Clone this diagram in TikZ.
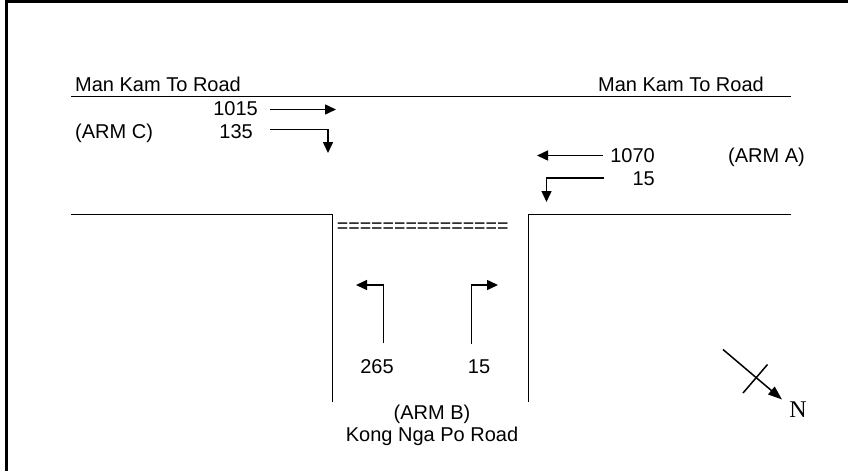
\documentclass[tikz,border=0pt]{standalone}
\usepackage{fontspec}
\setmainfont{Liberation Sans}
\newfontfamily\serifN{Liberation Serif}
\usetikzlibrary{arrows.meta}
\tikzset{
  road/.style={line width=1.2pt,black},
  flow/.style={line width=1.5pt,black,-{Triangle[length=11pt,width=10pt]}},
  lab/.style={font=\fontsize{20}{20}\selectfont,inner sep=0pt,text=black},
}
\begin{document}
\begin{tikzpicture}[x=1pt,y=-1pt]
\useasboundingbox (0,0) rectangle (848,471);
\draw[line width=3pt] (6.5,471) -- (6.5,1.5) -- (848,1.5);
% roads
\coordinate (t1) at (71,96.5); \coordinate (t2) at (791,96.5);
\draw[road] (t1) -- (t2);
\coordinate (l1) at (71,214.5); \coordinate (l2) at (332.5,214.5); \coordinate (l3) at (332.5,402);
\draw[road] (l1) -- (l2) -- (l3);
\coordinate (r1) at (791,214.5); \coordinate (r2) at (528.5,214.5); \coordinate (r3) at (528.5,402);
\draw[road] (r1) -- (r2) -- (r3);
% labels
\node[lab,anchor=base west] (mk1) at (75,91.5) {Man Kam To Road};
\node[lab,anchor=base east] (mk2) at (764,91.5) {Man Kam To Road};
\node[lab,anchor=base east] (n1015) at (258,115) {1015};
\node[lab,anchor=base east] (n135) at (253,138.5) {135};
\node[lab,anchor=base west] (armc) at (75,138.5) {(ARM C)};
\node[lab,anchor=base east] (n1070) at (655,162) {1070};
\node[lab,anchor=base east] (n15a) at (655,185.5) {15};
\node[lab,anchor=base east] (arma) at (805,162) {(ARM A)};
\node[lab,anchor=base,font=\fontsize{19.6}{20}\selectfont] (eq) at (422.7,232) {===============};
\node[lab,anchor=base] (n265) at (377,373) {265};
\node[lab,anchor=base] (n15b) at (479,373) {15};
\node[lab,anchor=base] (armb) at (432,419) {(ARM B)};
\node[lab,anchor=base] (kong) at (432,441) {Kong Nga Po Road};
\node[font=\fontsize{24}{24}\selectfont\serifN,inner sep=0pt,anchor=base] (north) at (798,417) {N};
% flows
\coordinate (a1) at (270,109.5); \coordinate (a2) at (336,109.5);
\draw[flow] (a1) -- (a2);
\coordinate (b1) at (270,129.5); \coordinate (b2) at (328,129.5); \coordinate (b3) at (328,153);
\draw[flow] (b1) -- (b2) -- (b3);
\coordinate (c1) at (603,155.5); \coordinate (c2) at (537,155.5);
\draw[flow] (c1) -- (c2);
\coordinate (d1) at (604,178); \coordinate (d2) at (546.5,178); \coordinate (d3) at (546.5,202);
\draw[flow] (d1) -- (d2) -- (d3);
\coordinate (e1) at (383.5,343); \coordinate (e2) at (383.5,285); \coordinate (e3) at (356,285);
\draw[flow] (e1) -- (e2) -- (e3);
\coordinate (f1) at (471.5,344); \coordinate (f2) at (471.5,285); \coordinate (f3) at (498,285);
\draw[flow] (f1) -- (f2) -- (f3);
% north arrow
\coordinate (g1) at (723,349.5); \coordinate (g2) at (782,399.5);
\draw[flow,-{Triangle[length=14pt,width=10pt]}] (g1) -- (g2);
\coordinate (h1) at (767.5,364.5); \coordinate (h2) at (743,393);
\draw[line width=1.5pt] (h1) -- (h2);
\end{tikzpicture}
\end{document}
